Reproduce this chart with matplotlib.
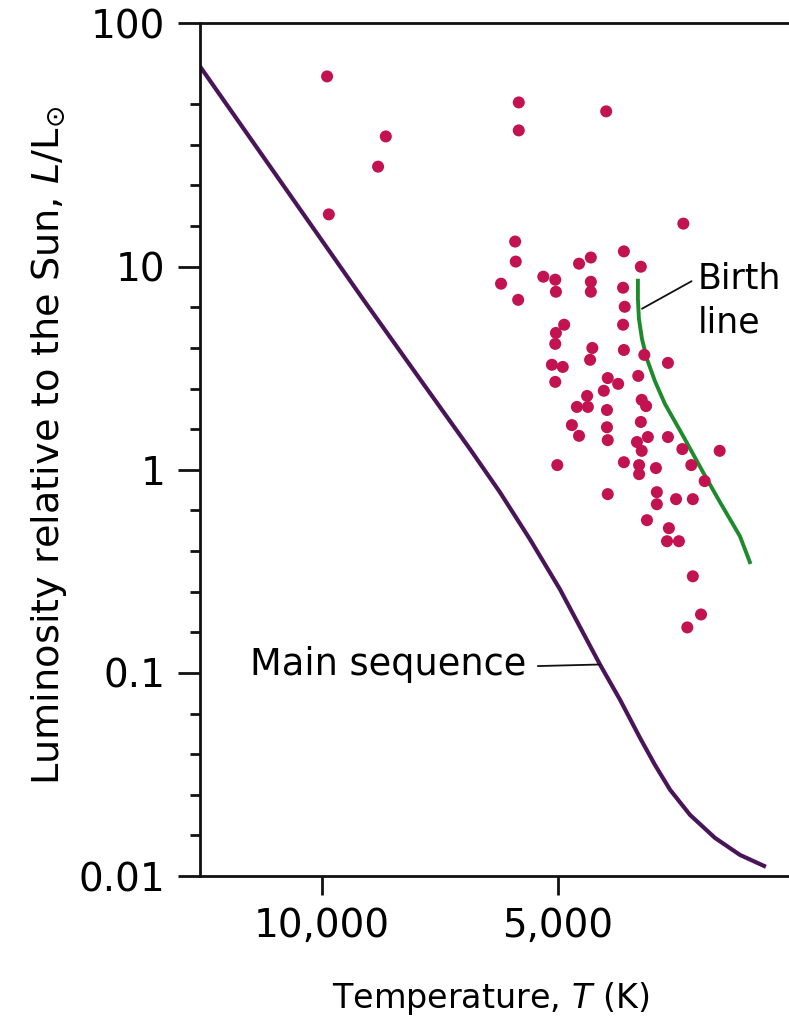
import matplotlib
matplotlib.use("Agg")
import matplotlib.pyplot as plt
from matplotlib.ticker import FixedLocator, NullLocator, FixedFormatter

plt.rcParams['font.family'] = ['DejaVu Sans']
plt.rcParams['mathtext.fontset'] = 'dejavusans'

# Young stars (temperature K, luminosity L/Lsun)
star_T = [9850, 8290, 8480, 9800, 5610, 5610, 4340, 3460, 5670, 5660,
          5910, 5620, 5220, 5040, 5030, 4700, 4540, 4540, 4540, 4120,
          3920, 4130, 4110, 4130, 4120, 4910, 5030, 5040, 4520, 4550,
          3880, 3620, 5090, 4930, 5040, 4320, 4190, 4370, 3950, 4590,
          4730, 4580, 4330, 3910, 3860, 3920, 4800, 4700, 4330, 4320,
          3965, 3840, 3620, 3910, 3470, 3110, 5010, 4120, 3940, 3940,
          3750, 3380, 3250, 4320, 3740, 3740, 3535, 3365, 3850, 3610,
          3630, 3505, 3365, 3285, 3420]
star_L = [86.5, 43.8, 31.1, 18.1, 64.4, 46.9, 58.2, 16.3, 13.3, 10.6,
          8.25, 6.87, 8.93, 8.63, 7.53, 10.35, 11.1, 8.43, 7.53, 11.9,
          10.0, 7.88, 6.35, 5.18, 3.89, 5.18, 4.72, 4.17, 3.98, 3.48,
          3.68, 3.36, 3.29, 3.21, 2.71, 2.83, 2.65, 2.45, 2.90, 2.31,
          2.04, 2.04, 1.97, 2.21, 2.06, 1.72, 1.66, 1.47, 1.62, 1.40,
          1.37, 1.45, 1.45, 1.24, 1.265, 1.24, 1.055, 1.09, 1.055, 0.952,
          1.02, 1.055, 0.880, 0.759, 0.776, 0.677, 0.717, 0.717, 0.565, 0.516,
          0.445, 0.445, 0.299, 0.194, 0.1675]

# Main sequence
ms_T = [14310, 8870, 7500, 6474, 5930, 5429, 4971, 4420, 4168, 3931,
        3762, 3598, 3393, 3153, 2930, 2715]
ms_L = [97, 6.95, 2.80, 1.265, 0.776, 0.455, 0.258, 0.110, 0.0739, 0.048,
        0.0353, 0.0266, 0.0200, 0.0154, 0.0127, 0.0111]

# Birth line
bl_T = [3954, 3954, 3942, 3907, 3851, 3762, 3652, 3463, 3266, 3107, 2930, 2846]
bl_L = [8.53, 6.95, 5.54, 4.41, 3.52, 2.74, 2.11, 1.47, 0.974, 0.693, 0.471, 0.351]

x_ticks = [10000, 5000]
x_ticklabels = ["10,000", "5,000"]
y_major = [0.01, 0.1, 1, 10, 10 ** 2.2]
y_ticklabels = ["0.01", "0.1", "1", "10", "100"]

fig = plt.figure(figsize=(7.89, 10.21), dpi=100)
ax = fig.add_axes([200 / 789, 145 / 1021, 589 / 789, 853 / 1021])

ax.set_xscale('log')
ax.set_yscale('log')
ax.set_xlim(14306, 2537)
ax.set_ylim(0.01, 10 ** 2.2)

ax.plot(ms_T, ms_L, color='#4a1458', lw=3.0, solid_capstyle='butt',
        solid_joinstyle='round', zorder=2)
ax.plot(bl_T, bl_L, color='#1f8a2c', lw=2.8, solid_joinstyle='round', zorder=2)
ax.scatter(star_T, star_L, s=75, color='#c2124f', edgecolors='none', zorder=3)

# axes styling
for side in ['left', 'bottom', 'top']:
    ax.spines[side].set_linewidth(2)
    ax.spines[side].set_color('#111111')
ax.spines['right'].set_visible(False)

ax.xaxis.set_major_locator(FixedLocator(x_ticks))
ax.xaxis.set_major_formatter(FixedFormatter(x_ticklabels))
ax.xaxis.set_minor_locator(NullLocator())

minor = [10 ** (k / 5) for k in range(-10, 11) if k % 5 != 0]
ax.yaxis.set_major_locator(FixedLocator(y_major))
ax.yaxis.set_major_formatter(FixedFormatter(y_ticklabels))
ax.yaxis.set_minor_locator(FixedLocator(minor))

ax.tick_params(axis='y', which='major', direction='out', length=16, width=2,
               pad=9, labelsize=28, color='#111111')
ax.tick_params(axis='y', which='minor', direction='out', length=7, width=2,
               color='#111111')
ax.tick_params(axis='x', which='major', direction='out', length=14, width=2,
               pad=8, labelsize=28, color='#111111')

ax.set_xlabel(r"Temperature, $\mathit{T}$ (K)", fontsize=24)
ax.set_ylabel(r"Luminosity relative to the Sun, $\mathit{L}/\mathrm{L}_{\odot}$", fontsize=27.5)
ax.xaxis.set_label_coords(0.494, -0.122)
ax.yaxis.set_label_coords(-0.222, 0.505)

ax.annotate("Main sequence", xy=(4420, 0.110), xytext=(5480, 0.110),
            ha='right', va='center', fontsize=26.5,
            arrowprops=dict(arrowstyle='-', lw=1.3, color='#111111',
                            shrinkA=6, shrinkB=0, relpos=(1, 0.45)))
ax.annotate("Birth\nline", xy=(3907, 6.21), xytext=(3314, 6.79),
            ha='left', va='center', fontsize=25, linespacing=1.35,
            arrowprops=dict(arrowstyle='-', lw=1.3, color='#111111',
                            shrinkA=3, shrinkB=0, relpos=(0, 0.8)))

fig.savefig("out.png", dpi=100)
